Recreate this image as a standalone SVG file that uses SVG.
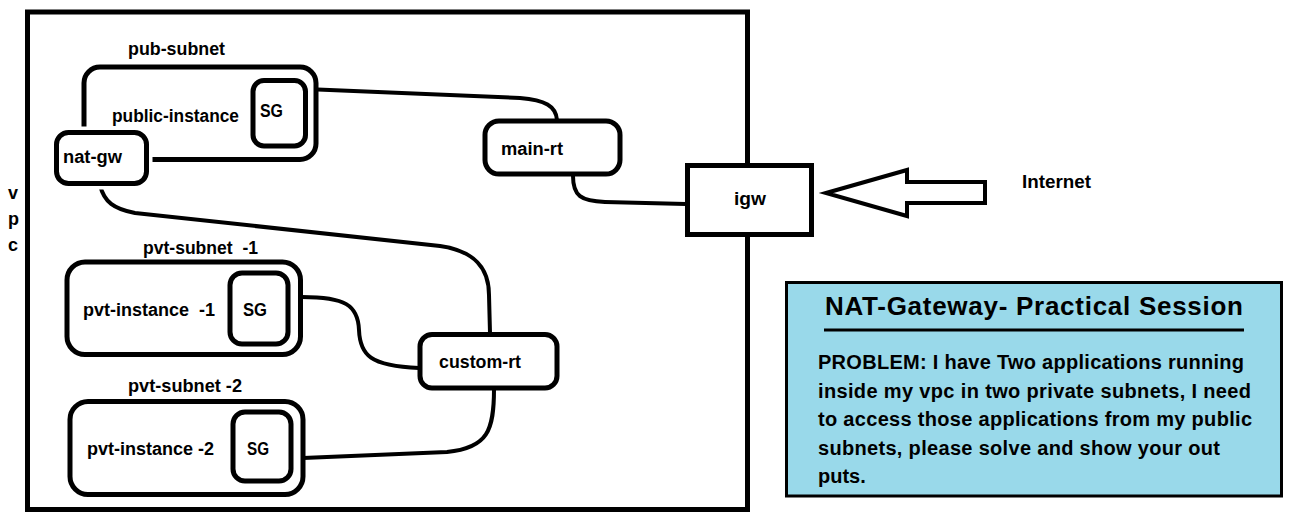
<svg xmlns="http://www.w3.org/2000/svg" width="1297" height="518" viewBox="0 0 1297 518">
<style>
.box{fill:#fff;stroke:#000;stroke-width:5}
.halo{fill:#fff;stroke:#fff;stroke-width:12}
.conn{fill:none;stroke:#000;stroke-width:4;stroke-linecap:round;stroke-linejoin:round}
.lbl{font-family:"Liberation Sans",Arial,sans-serif;font-weight:bold;font-size:18px;fill:#000;white-space:pre}
.title{font-family:"Liberation Sans",Arial,sans-serif;font-weight:bold;font-size:26px;fill:#000}
.body{font-family:"Liberation Sans",Arial,sans-serif;font-weight:bold;font-size:20px;fill:#000}
</style>
<rect width="1297" height="518" fill="#fff"/>
<g id="vpc">
<rect x="27.5" y="12" width="720" height="497.5" fill="none" stroke="#000" stroke-width="5"/>
<text class="lbl" x="8" y="199">v</text>
<text class="lbl" x="8" y="225">p</text>
<text class="lbl" x="8" y="251">c</text>
</g>
<g id="connectors">
<path class="conn" d="M305.5,89 L520,98 C545,100 556,106 557,120"/>
<path class="conn" d="M573,176 C573,196 581,201 605,202 L686,204"/>
<path class="conn" d="M100,185 C104,202 114,209 135,213 L440,246 C475,251 489,268 489,295 L490,333"/>
<path class="conn" d="M302,297 C345,297 358,305 359,330 C360,355 370,366 419,368"/>
<path class="conn" d="M494,389 C494,430 488,448 447,452 L303,458"/>
</g>
<g id="pub-subnet">
<rect class="box" x="84" y="67" width="232" height="92.5" rx="16"/>
<text class="lbl" x="128" y="55" textLength="97" lengthAdjust="spacingAndGlyphs">pub-subnet</text>
</g>
<g id="public-instance">
<text class="lbl" x="112" y="122" textLength="127" lengthAdjust="spacingAndGlyphs">public-instance</text>
</g>
<g id="sg-pub">
<rect class="box" x="253" y="80.5" width="52.5" height="65.5" rx="11"/>
<text class="lbl" x="260" y="117" textLength="23" lengthAdjust="spacingAndGlyphs">SG</text>
</g>
<g id="nat-gw">
<rect class="halo" x="56.5" y="132.5" width="90" height="51" rx="12"/>
<rect class="box" x="56.5" y="132.5" width="90" height="51" rx="12"/>
<text class="lbl" x="63" y="163" textLength="59" lengthAdjust="spacingAndGlyphs">nat-gw</text>
</g>
<g id="main-rt">
<rect class="box" x="485" y="121" width="135" height="53" rx="14"/>
<text class="lbl" x="501" y="155" textLength="62" lengthAdjust="spacingAndGlyphs">main-rt</text>
</g>
<g id="igw">
<rect class="box" x="687.5" y="165.5" width="124" height="69"/>
<text class="lbl" x="734" y="205" textLength="32" lengthAdjust="spacingAndGlyphs">igw</text>
</g>
<g id="internet-arrow">
<polygon points="826,193 907,170 907,182 985,182 985,203 907,203 907,216" fill="#fff" stroke="#000" stroke-width="4" stroke-linejoin="miter"/>
</g>
<g id="internet">
<text class="lbl" x="1022" y="188" textLength="69" lengthAdjust="spacingAndGlyphs">Internet</text>
</g>
<g id="custom-rt">
<rect class="box" x="420" y="334.5" width="137" height="53.5" rx="12"/>
<text class="lbl" x="439" y="368" textLength="82" lengthAdjust="spacingAndGlyphs">custom-rt</text>
</g>
<g id="pvt-subnet-1">
<rect class="box" x="67" y="262" width="233.5" height="92.5" rx="18"/>
<text class="lbl" x="143" y="254" textLength="115" lengthAdjust="spacingAndGlyphs">pvt-subnet  -1</text>
<text class="lbl" x="83" y="316" textLength="132" lengthAdjust="spacingAndGlyphs">pvt-instance  -1</text>
</g>
<g id="sg-1">
<rect class="box" x="230" y="273" width="58" height="71" rx="12"/>
<text class="lbl" x="243" y="316" textLength="24" lengthAdjust="spacingAndGlyphs">SG</text>
</g>
<g id="pvt-subnet-2">
<rect class="box" x="70" y="401.5" width="233" height="93" rx="18"/>
<text class="lbl" x="128" y="392" textLength="114" lengthAdjust="spacingAndGlyphs">pvt-subnet -2</text>
<text class="lbl" x="87" y="455" textLength="127" lengthAdjust="spacingAndGlyphs">pvt-instance -2</text>
</g>
<g id="sg-2">
<rect class="box" x="233" y="412" width="58" height="69" rx="12"/>
<text class="lbl" x="247" y="455" textLength="22" lengthAdjust="spacingAndGlyphs">SG</text>
</g>
<g id="problem-box">
<rect x="786.5" y="282.5" width="495" height="213.5" fill="#99D9EA" stroke="#000" stroke-width="3"/>
<text class="title" x="825" y="315" textLength="418">NAT-Gateway- Practical Session</text>
<line x1="824" y1="330" x2="1244" y2="330" stroke="#000" stroke-width="3"/>
<text class="body" x="818" y="369" textLength="426">PROBLEM: I have Two applications running</text>
<text class="body" x="818" y="397.5" textLength="433">inside my vpc in two private subnets, I need</text>
<text class="body" x="818" y="426" textLength="434">to access those applications from my public</text>
<text class="body" x="818" y="454.5" textLength="402">subnets, please solve and show your out</text>
<text class="body" x="818" y="483">puts.</text>
</g>
</svg>
